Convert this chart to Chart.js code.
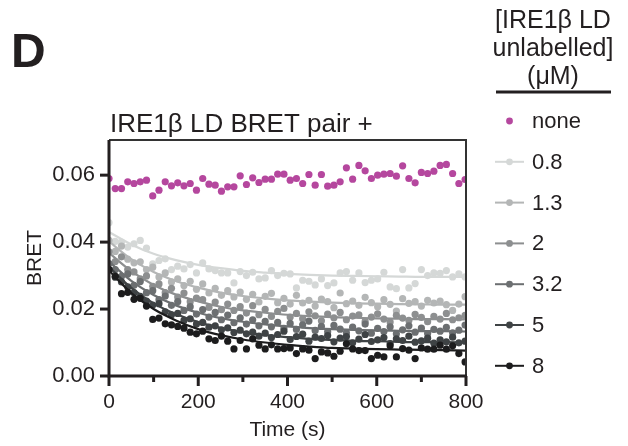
<!DOCTYPE html>
<html>
<head>
<meta charset="utf-8">
<script src="https://cdn.jsdelivr.net/npm/chart.js@4"></script>
<style>
  html, body { margin: 0; padding: 0; background: #fff; }
  #wrap { width: 628px; height: 446px; position: relative; }
</style>
</head>
<body>
<div id="wrap"><canvas id="bret"></canvas></div>
<script>
// time points (s), one reading every ~14 s
const times = [];
for (let i = 0; i < 58; i++) times.push(i * 14);

const concLabels = ["none", "0.8", "1.3", "2", "3.2", "5", "8"];
const seriesColors = ["#b5479e", "#d5d8d7", "#b4b6b6", "#8d8f90", "#6c6f71", "#3f4345", "#1c1c1d"];

// BRET readings
const bretNone = [0.0590, 0.0560, 0.0560, 0.0580, 0.0575, 0.0580, 0.0585, 0.0538, 0.0555, 0.0580,
  0.0568, 0.0577, 0.0568, 0.0575, 0.0555, 0.0590, 0.0573, 0.0570, 0.0552, 0.0565,
  0.0565, 0.0598, 0.0572, 0.0592, 0.0578, 0.0588, 0.0588, 0.0603, 0.0603, 0.0585,
  0.0590, 0.0575, 0.0602, 0.0570, 0.0602, 0.0567, 0.0570, 0.0580, 0.0622, 0.0588,
  0.0629, 0.0613, 0.0590, 0.0600, 0.0603, 0.0605, 0.0597, 0.0628, 0.0590, 0.0577,
  0.0608, 0.0605, 0.0612, 0.0629, 0.0632, 0.0605, 0.0575, 0.0587];
const bret08 = [0.0458, 0.0402, 0.0400, 0.0385, 0.0395, 0.0405, 0.0382, 0.0335, 0.0345, 0.0350,
  0.0318, 0.0328, 0.0320, 0.0333, 0.0308, 0.0338, 0.0320, 0.0315, 0.0308, 0.0308,
  0.0278, 0.0312, 0.0300, 0.0310, 0.0290, 0.0293, 0.0315, 0.0300, 0.0307, 0.0305,
  0.0263, 0.0286, 0.0283, 0.0272, 0.0290, 0.0270, 0.0278, 0.0308, 0.0312, 0.0286,
  0.0308, 0.0279, 0.0286, 0.0290, 0.0310, 0.0266, 0.0261, 0.0318, 0.0263, 0.0276,
  0.0318, 0.0300, 0.0308, 0.0307, 0.0315, 0.0296, 0.0305, 0.0296];
const bret13 = [0.0405, 0.0372, 0.0388, 0.0349, 0.0338, 0.0341, 0.0318, 0.0325, 0.0296, 0.0308,
  0.0281, 0.0290, 0.0270, 0.0283, 0.0259, 0.0275, 0.0248, 0.0262, 0.0241, 0.0255,
  0.0236, 0.0251, 0.0229, 0.0244, 0.0221, 0.0238, 0.0247, 0.0219, 0.0232, 0.0215,
  0.0241, 0.0218, 0.0226, 0.0209, 0.0230, 0.0222, 0.0204, 0.0248, 0.0216, 0.0224,
  0.0211, 0.0235, 0.0219, 0.0207, 0.0228, 0.0214, 0.0194, 0.0231, 0.0217, 0.0222,
  0.0209, 0.0226, 0.0218, 0.0224, 0.0213, 0.0196, 0.0215, 0.0237];
const bret2 = [0.0371, 0.0342, 0.0356, 0.0318, 0.0311, 0.0290, 0.0299, 0.0268, 0.0275, 0.0249,
  0.0262, 0.0236, 0.0248, 0.0222, 0.0233, 0.0228, 0.0205, 0.0221, 0.0198, 0.0215,
  0.0196, 0.0207, 0.0188, 0.0210, 0.0183, 0.0199, 0.0178, 0.0193, 0.0202, 0.0176,
  0.0187, 0.0171, 0.0192, 0.0180, 0.0165, 0.0185, 0.0174, 0.0190, 0.0168, 0.0179,
  0.0183, 0.0163, 0.0176, 0.0186, 0.0170, 0.0161, 0.0181, 0.0173, 0.0166, 0.0184,
  0.0175, 0.0162, 0.0178, 0.0170, 0.0187, 0.0168, 0.0174, 0.0181];
const bret32 = [0.0336, 0.0318, 0.0298, 0.0305, 0.0271, 0.0282, 0.0249, 0.0255, 0.0228, 0.0239,
  0.0211, 0.0222, 0.0196, 0.0207, 0.0185, 0.0198, 0.0176, 0.0190, 0.0168, 0.0182,
  0.0159, 0.0174, 0.0155, 0.0168, 0.0150, 0.0163, 0.0147, 0.0160, 0.0142, 0.0157,
  0.0139, 0.0153, 0.0164, 0.0136, 0.0148, 0.0132, 0.0151, 0.0140, 0.0129, 0.0146,
  0.0135, 0.0155, 0.0128, 0.0142, 0.0133, 0.0147, 0.0126, 0.0138, 0.0150, 0.0131,
  0.0143, 0.0127, 0.0139, 0.0134, 0.0145, 0.0129, 0.0137, 0.0152];
const bret5 = [0.0318, 0.0295, 0.0281, 0.0266, 0.0249, 0.0238, 0.0224, 0.0212, 0.0216, 0.0192,
  0.0183, 0.0187, 0.0166, 0.0171, 0.0155, 0.0160, 0.0146, 0.0150, 0.0138, 0.0144,
  0.0130, 0.0137, 0.0126, 0.0131, 0.0119, 0.0128, 0.0115, 0.0124, 0.0134, 0.0109,
  0.0118, 0.0125, 0.0104, 0.0116, 0.0112, 0.0121, 0.0102, 0.0113, 0.0118, 0.0099,
  0.0110, 0.0124, 0.0103, 0.0108, 0.0115, 0.0097, 0.0111, 0.0106, 0.0119, 0.0101,
  0.0105, 0.0113, 0.0098, 0.0108, 0.0102, 0.0116, 0.0099, 0.0104];
const bret8 = [0.0318, 0.0298, 0.0246, 0.0250, 0.0229, 0.0232, 0.0209, 0.0169, 0.0173, 0.0156,
  0.0153, 0.0148, 0.0143, 0.0131, 0.0126, 0.0134, 0.0111, 0.0106, 0.0119, 0.0104,
  0.0081, 0.0106, 0.0081, 0.0111, 0.0092, 0.0081, 0.0093, 0.0081, 0.0082, 0.0084,
  0.0067, 0.0081, 0.0077, 0.0052, 0.0072, 0.0069, 0.0059, 0.0074, 0.0096, 0.0081,
  0.0076, 0.0076, 0.0052, 0.0062, 0.0057, 0.0090, 0.0057, 0.0082, 0.0077, 0.0052,
  0.0084, 0.0080, 0.0080, 0.0092, 0.0080, 0.0090, 0.0067, 0.0042];

// fitted decay curves, read every 50 s
const fitTimes = [0, 50, 100, 150, 200, 250, 300, 350, 400, 450, 500, 550, 600, 650, 700, 750, 800];
const fit08 = [0.0430, 0.0393, 0.0365, 0.0346, 0.0332, 0.0322, 0.0314, 0.0309, 0.0305, 0.0302, 0.0300, 0.0299, 0.0298, 0.0297, 0.0296, 0.0296, 0.0296];
const fit13 = [0.0402, 0.0349, 0.0311, 0.0284, 0.0264, 0.0249, 0.0239, 0.0232, 0.0226, 0.0222, 0.0219, 0.0217, 0.0216, 0.0215, 0.0214, 0.0213, 0.0213];
const fit2 = [0.0368, 0.0313, 0.0272, 0.0243, 0.0223, 0.0207, 0.0196, 0.0189, 0.0183, 0.0179, 0.0176, 0.0174, 0.0172, 0.0171, 0.0170, 0.0170, 0.0169];
const fit32 = [0.0342, 0.0284, 0.0242, 0.0211, 0.0189, 0.0173, 0.0162, 0.0154, 0.0148, 0.0143, 0.0140, 0.0138, 0.0136, 0.0135, 0.0134, 0.0134, 0.0133];
const fit5 = [0.0326, 0.0263, 0.0217, 0.0185, 0.0161, 0.0144, 0.0131, 0.0122, 0.0116, 0.0111, 0.0108, 0.0105, 0.0104, 0.0102, 0.0101, 0.0101, 0.0100];
const fit8 = [0.0315, 0.0248, 0.0200, 0.0166, 0.0140, 0.0122, 0.0109, 0.0100, 0.0093, 0.0088, 0.0084, 0.0082, 0.0080, 0.0079, 0.0078, 0.0077, 0.0076];

const yTicks = [0, 0.02, 0.04, 0.06];
const xTicks = [0, 200, 400, 600, 800];

const pointSeries = [bretNone, bret08, bret13, bret2, bret32, bret5, bret8];
const fitSeries = [null, fit08, fit13, fit2, fit32, fit5, fit8];

const FONT = "'Liberation Sans', Arial, Helvetica, sans-serif";
const INK = "#231f20";

let datasets = [];
pointSeries.forEach((vals, k) => {
  datasets.push({
    type: "scatter",
    label: concLabels[k],
    data: vals.map((v, i) => ({ x: times[i], y: v })),
    backgroundColor: seriesColors[k],
    borderWidth: 0,
    pointRadius: 3.6,
    order: 100 - k * 2,
  });
  if (fitSeries[k]) {
    datasets.push({
      type: "line",
      label: concLabels[k] + " fit",
      data: fitSeries[k].map((v, i) => ({ x: fitTimes[i], y: v })),
      borderColor: seriesColors[k],
      borderWidth: 2.2,
      pointRadius: 0,
      tension: 0.4,
      cubicInterpolationMode: "monotone",
      fill: false,
      order: 99 - k * 2,
    });
  }
});

// axes, frame, panel letter, title and legend
const decorations = {
  id: "decorations",
  afterDraw(chart) {
    const ctx = chart.ctx;
    const a = chart.chartArea;
    const xs = chart.scales.x, ys = chart.scales.y;
    ctx.save();
    // thin frame top/right
    ctx.strokeStyle = "#333";
    ctx.lineWidth = 2;
    ctx.beginPath();
    ctx.moveTo(a.left, a.top);
    ctx.lineTo(a.right, a.top);
    ctx.lineTo(a.right, a.bottom);
    ctx.stroke();
    // axes
    ctx.strokeStyle = INK;
    ctx.lineWidth = 3;
    ctx.beginPath();
    ctx.moveTo(a.left, a.top);
    ctx.lineTo(a.left, a.bottom + 1.5);
    ctx.moveTo(a.left - 1.5, a.bottom);
    ctx.lineTo(a.right + 1, a.bottom);
    ctx.stroke();
    // y ticks
    yTicks.forEach((v) => {
      const py = ys.getPixelForValue(v);
      ctx.beginPath();
      ctx.moveTo(a.left - 9, py);
      ctx.lineTo(a.left, py);
      ctx.stroke();
    });
    // x ticks, minor every 100
    for (let t = 0; t <= 800; t += 100) {
      const px = xs.getPixelForValue(t);
      const len = t % 200 === 0 ? 10 : 6;
      ctx.beginPath();
      ctx.moveTo(px, a.bottom);
      ctx.lineTo(px, a.bottom + len);
      ctx.stroke();
    }
    // panel letter
    ctx.fillStyle = INK;
    ctx.font = "bold 48px " + FONT;
    ctx.textAlign = "left";
    ctx.textBaseline = "alphabetic";
    ctx.fillText("D", 11, 67);
    // plot title
    ctx.font = "26px " + FONT;
    ctx.fillText("IRE1\u03b2 LD BRET pair +", 110, 132);
    // legend title
    ctx.textAlign = "center";
    ctx.font = "25px " + FONT;
    ctx.fillText("[IRE1\u03b2 LD", 553, 28);
    ctx.fillText("unlabelled]", 553, 56);
    ctx.fillText("(\u03bcM)", 553, 84);
    ctx.lineWidth = 3;
    ctx.beginPath();
    ctx.moveTo(496, 92);
    ctx.lineTo(611, 92);
    ctx.stroke();
    // legend entries
    ctx.textAlign = "left";
    ctx.textBaseline = "middle";
    ctx.font = "22px " + FONT;
    concLabels.forEach((lab, k) => {
      const cy = 121 + k * 40.8;
      if (k > 0) {
        ctx.strokeStyle = seriesColors[k];
        ctx.lineWidth = 2;
        ctx.beginPath();
        ctx.moveTo(495, cy);
        ctx.lineTo(524, cy);
        ctx.stroke();
      }
      ctx.fillStyle = seriesColors[k];
      ctx.beginPath();
      ctx.arc(509.5, cy, 3.4, 0, Math.PI * 2);
      ctx.fill();
      ctx.fillStyle = INK;
      ctx.fillText(lab, 532, cy + 1);
    });
    ctx.restore();
  },
};

const bretChart = new Chart(document.getElementById("bret").getContext("2d"), {
  data: { datasets: datasets },
  options: {
    responsive: true,
    maintainAspectRatio: false,
    animation: false,
    layout: { padding: { left: 23, right: 162, top: 140, bottom: 0 } },
    plugins: { legend: { display: false }, tooltip: { enabled: false } },
    scales: {
      x: {
        type: "linear",
        min: 0,
        max: 800,
        afterBuildTicks: (s) => { s.ticks = xTicks.map((v) => ({ value: v })); },
        afterFit: (s) => { s.height = 70; },
        grid: { display: false },
        border: { display: false },
        ticks: { color: INK, font: { family: FONT, size: 21 }, padding: 6, maxRotation: 0 },
        title: { display: true, text: "Time (s)", color: INK, font: { family: FONT, size: 21 }, padding: { top: 0, bottom: 3 } },
      },
      y: {
        type: "linear",
        min: 0,
        max: 0.0705,
        afterBuildTicks: (s) => { s.ticks = yTicks.map((v) => ({ value: v })); },
        afterFit: (s) => { s.width = 86; },
        grid: { display: false },
        border: { display: false },
        ticks: { color: INK, font: { family: FONT, size: 22 }, padding: 6, callback: (v) => v.toFixed(2) },
        title: { display: true, text: "BRET", color: INK, font: { family: FONT, size: 21 }, padding: { top: 0, bottom: 0 } },
      },
    },
  },
  plugins: [decorations],
});
</script>
</body>
</html>
